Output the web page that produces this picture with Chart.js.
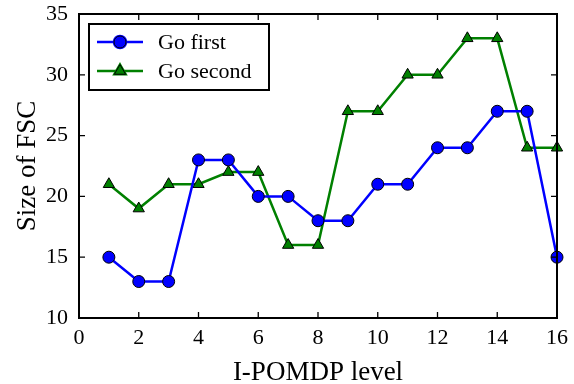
<!DOCTYPE html>
<html>
<head>
<meta charset="utf-8">
<script src="https://cdn.jsdelivr.net/npm/chart.js@4.4.1/dist/chart.umd.min.js"></script>
<style>
  html, body { margin: 0; padding: 0; background: #fff; }
  #wrap { width: 574px; height: 384px; }
</style>
</head>
<body>
<div id="wrap"><canvas id="fscChart" width="574" height="384"></canvas></div>
<script>
const levels = [1, 2, 3, 4, 5, 6, 7, 8, 9, 10, 11, 12, 13, 14, 15, 16];
const goFirst = [15, 13, 13, 23, 23, 20, 20, 18, 18, 21, 21, 24, 24, 27, 27, 15];
const goSecond = [21, 19, 21, 21, 22, 22, 16, 16, 27, 27, 30, 30, 33, 33, 24, 24];
const xTicks = [0, 2, 4, 6, 8, 10, 12, 14, 16];
const yTicks = [10, 15, 20, 25, 30, 35];

const serif = '"Liberation Serif", "DejaVu Serif", serif';

function toPoints(ys) {
    return levels.map((x, i) => ({ x: x, y: ys[i] }));
}

// frame, inward ticks on all four sides, and the boxed legend
const framePlugin = {
    id: 'frame',
    afterDatasetsDraw(chart) {
        const ctx = chart.ctx;
        const a = chart.chartArea;
        const xs = chart.scales.x, ys = chart.scales.y;
        ctx.save();
        ctx.strokeStyle = '#000';
        ctx.lineWidth = 1.3;
        ctx.beginPath();
        xTicks.forEach(v => {
            const px = xs.getPixelForValue(v);
            ctx.moveTo(px, a.bottom); ctx.lineTo(px, a.bottom - 6);
            ctx.moveTo(px, a.top); ctx.lineTo(px, a.top + 6);
        });
        yTicks.forEach(v => {
            const py = ys.getPixelForValue(v);
            ctx.moveTo(a.left, py); ctx.lineTo(a.left + 6, py);
            ctx.moveTo(a.right, py); ctx.lineTo(a.right - 6, py);
        });
        ctx.stroke();
        ctx.lineWidth = 2;
        ctx.strokeRect(a.left, a.top, a.right - a.left, a.bottom - a.top);

        // legend
        const bx = a.left + 10, by = a.top + 10, bw = 180, bh = 66;
        ctx.fillStyle = '#fff';
        ctx.fillRect(bx, by, bw, bh);
        ctx.lineWidth = 2;
        ctx.strokeRect(bx, by, bw, bh);
        chart.data.datasets.forEach((ds, i) => {
            const ly = by + 18 + i * 29;
            ctx.strokeStyle = ds.borderColor;
            ctx.lineWidth = ds.borderWidth;
            ctx.beginPath();
            ctx.moveTo(bx + 8, ly); ctx.lineTo(bx + 54, ly);
            ctx.stroke();
            Chart.helpers.drawPoint(ctx, {
                pointStyle: ds.pointStyle,
                radius: ds.pointRadius,
                borderWidth: 1
            }, bx + 31, ly);
            ctx.fillStyle = ds.pointBackgroundColor;
            ctx.strokeStyle = '#000';
            ctx.lineWidth = 1;
            ctx.fill();
            ctx.stroke();
            ctx.fillStyle = '#000';
            ctx.font = '22px ' + serif;
            ctx.textBaseline = 'middle';
            ctx.fillText(ds.label, bx + 69, ly + 1);
        });
        ctx.restore();
    }
};

new Chart(document.getElementById('fscChart').getContext('2d'), {
    type: 'line',
    data: {
        datasets: [{
            label: 'Go first',
            data: toPoints(goFirst),
            borderColor: '#0000ff',
            backgroundColor: '#0000ff',
            pointBackgroundColor: '#0000ff',
            pointBorderColor: '#000',
            pointBorderWidth: 1,
            pointStyle: 'circle',
            pointRadius: 6,
            borderWidth: 2.5,
            tension: 0,
            clip: false
        }, {
            label: 'Go second',
            data: toPoints(goSecond),
            borderColor: '#008000',
            backgroundColor: '#008000',
            pointBackgroundColor: '#008000',
            pointBorderColor: '#000',
            pointBorderWidth: 1,
            pointStyle: 'triangle',
            pointRadius: 6.5,
            borderWidth: 2.5,
            tension: 0,
            clip: false
        }]
    },
    options: {
        responsive: false,
        animation: false,
        layout: { padding: { top: 14, right: 17, left: 0, bottom: 0 } },
        plugins: {
            legend: { display: false },
            tooltip: { enabled: false }
        },
        scales: {
            x: {
                type: 'linear',
                min: 0,
                max: 16,
                afterFit: s => { s.height = 66; s.paddingLeft = 0; s.paddingRight = 0; },
                afterBuildTicks: s => { s.ticks = xTicks.map(v => ({ value: v })); },
                grid: { display: false, drawTicks: false },
                border: { display: false },
                ticks: { color: '#000', padding: 7, maxRotation: 0, font: { family: serif, size: 22 } },
                title: { display: true, text: 'I-POMDP level', color: '#000', padding: 0, font: { family: serif, size: 27, lineHeight: 0.8 } }
            },
            y: {
                min: 10,
                max: 35,
                afterFit: s => { s.width = 79; s.paddingTop = 0; s.paddingBottom = 0; },
                afterBuildTicks: s => { s.ticks = yTicks.map(v => ({ value: v })); },
                grid: { display: false, drawTicks: false },
                border: { display: false },
                ticks: { color: '#000', padding: 11, font: { family: serif, size: 22 } },
                title: { display: true, text: 'Size of FSC', color: '#000', padding: { top: 14, bottom: 0 }, font: { family: serif, size: 27, lineHeight: 1 } }
            }
        }
    },
    plugins: [framePlugin]
});
</script>
</body>
</html>
